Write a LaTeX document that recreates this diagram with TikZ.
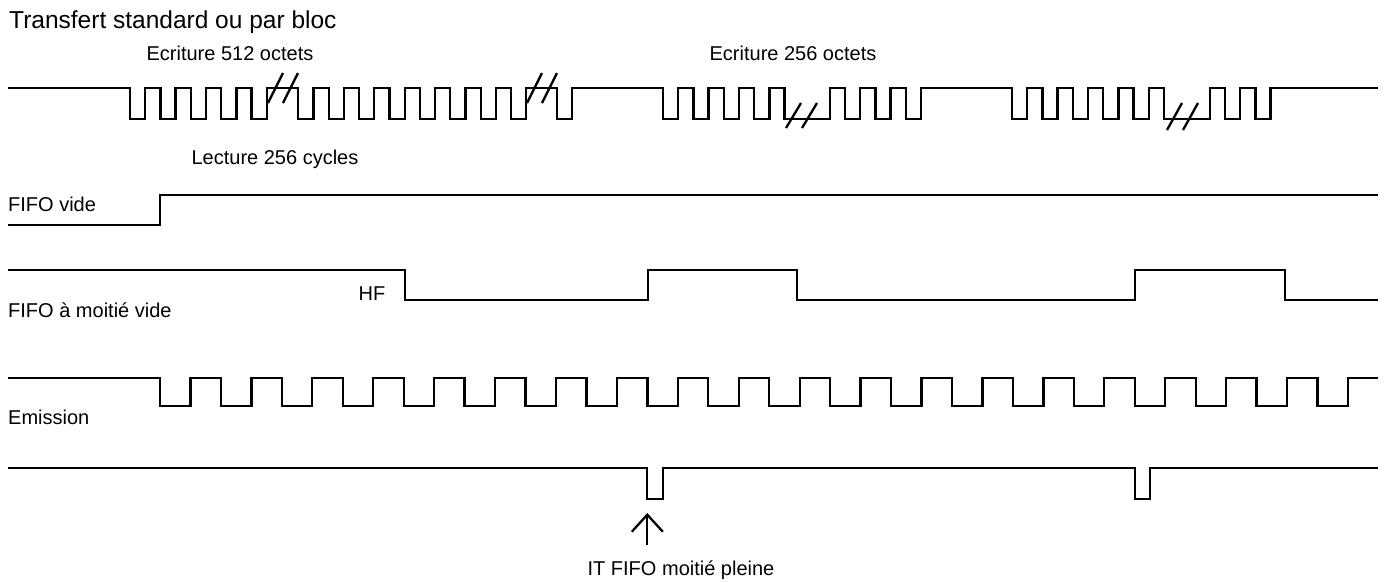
\documentclass[tikz,border=0pt]{standalone}
\usepackage{fontspec}
\setmainfont{Liberation Sans}
\usetikzlibrary{arrows.meta}

\tikzset{
	wave/.style={line width=2.3pt, line join=miter},
	brk/.style={line width=2.3pt},
	lbl/.style={font=\fontsize{20}{24}\selectfont, inner sep=0pt},
}

\begin{document}
\begin{tikzpicture}[x=1pt,y=-1pt]
	\useasboundingbox (0,0) rectangle (1391,582);
	% labels
	\node[lbl, font=\fontsize{24.5}{29}\selectfont, anchor=base west] (title) at (9,28) {Transfert standard ou par bloc};
	\node[lbl, anchor=base] (ecr512) at (230,60) {Ecriture 512 octets};
	\node[lbl, anchor=base] (ecr256) at (793,60) {Ecriture 256 octets};
	\node[lbl, anchor=base] (lect) at (275,164) {Lecture 256 cycles};
	\node[lbl, anchor=base west] (vide) at (8,211) {FIFO vide};
	\node[lbl, anchor=base west] (moitie) at (8,317) {FIFO à moitié vide};
	\node[lbl, anchor=base] (hf) at (372,300) {HF};
	\node[lbl, anchor=base west] (emis) at (8,424) {Emission};
	\node[lbl, anchor=base] (itlbl) at (681,575) {IT FIFO moitié pleine};
	% ecriture
	\draw[wave] (8,88)
		\foreach \k in {0,...,4} { -- ({130+30.4*\k},88) -- ({130+30.4*\k},119) -- ({145.2+30.4*\k},119) -- ({145.2+30.4*\k},88) }
		\foreach \k in {0,...,7} { -- ({298.3+30.4*\k},88) -- ({298.3+30.4*\k},119) -- ({313.5+30.4*\k},119) -- ({313.5+30.4*\k},88) }
		-- (557,88) -- (557,119) -- (572,119) -- (572,88)
		\foreach \k in {0,...,3} { -- ({663+30.4*\k},88) -- ({663+30.4*\k},119) -- ({678.2+30.4*\k},119) -- ({678.2+30.4*\k},88) }
		-- (784.6,88) -- (784.6,119) -- (830,119) -- (830,88)
		\foreach \k in {0,...,2} { -- ({845+30.4*\k},88) -- ({845+30.4*\k},119) -- ({860.2+30.4*\k},119) -- ({860.2+30.4*\k},88) }
		\foreach \k in {0,...,4} { -- ({1012+30.4*\k},88) -- ({1012+30.4*\k},119) -- ({1027.2+30.4*\k},119) -- ({1027.2+30.4*\k},88) }
		-- (1164,88) -- (1164,119) -- (1210,119) -- (1210,88)
		\foreach \k in {0,1} { -- ({1225+30.4*\k},88) -- ({1225+30.4*\k},119) -- ({1240.2+30.4*\k},119) -- ({1240.2+30.4*\k},88) }
		-- (1378,88);
	\foreach \x/\y/\h in {268/103/30, 283/103/30, 527/103/30, 542/103/30, 786/128/25, 802/128/25, 1167/130/27, 1183/130/27}
		\draw[brk] (\x,\y) -- ({\x+15},{\y-\h});
	% fifo vide
	\draw[wave] (8,225) -- (160,225) -- (160,195) -- (1378,195);
	% fifo a moitie vide
	\draw[wave] (8,270) -- (405,270) -- (405,300) -- (648,300) -- (648,270) -- (797,270) -- (797,300)
		-- (1135,300) -- (1135,270) -- (1285,270) -- (1285,300) -- (1378,300);
	% emission
	\draw[wave] (8,378)
		\foreach \k in {0,2,...,38} { -- ({160+30.46*\k},378) -- ({160+30.46*\k},406) -- ({190.46+30.46*\k},406) -- ({190.46+30.46*\k},378) }
		-- (1378,378);
	% IT
	\draw[wave] (8,468) -- (647.3,468) -- (647.3,499) -- (662.7,499) -- (662.7,468)
		-- (1134.7,468) -- (1134.7,499) -- (1150,499) -- (1150,468) -- (1378,468);
	\coordinate (itfoot) at (647.3,545);
	\coordinate (ittip) at (647.3,513);
	\draw[wave, -{Straight Barb[length=17pt,width=31pt]}] (itfoot) -- (ittip);
\end{tikzpicture}
\end{document}
